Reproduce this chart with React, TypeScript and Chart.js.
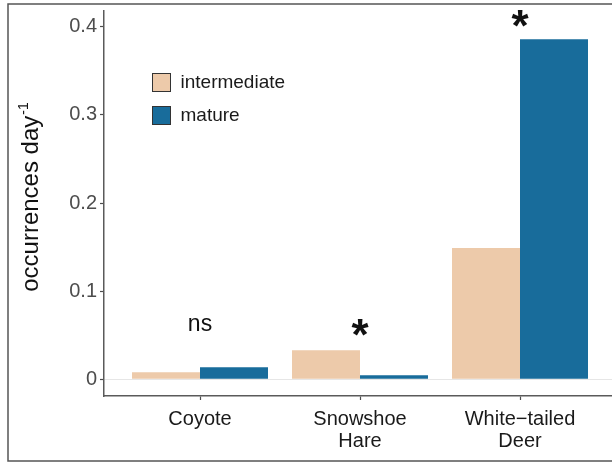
import { useEffect, useRef } from "react";
import { Chart, registerables } from "chart.js";

Chart.register(...registerables);

// Species groups (multi-line tick labels)
const species: string[][] = [["Coyote"], ["Snowshoe", "Hare"], ["White−tailed", "Deer"]];
// Mean detections per camera-day by forest stage
const intermediate = [0.008, 0.033, 0.149];
const mature = [0.0135, 0.0045, 0.386];
const seriesNames = ["intermediate", "mature"];
const seriesColors = ["#EDCAAA", "#186C9B"];
// Y axis ticks
const yTicks = [0, 0.1, 0.2, 0.3, 0.4];
const yTickLabels = ["0", "0.1", "0.2", "0.3", "0.4"];
// Significance marks and the height (in data units) at which they sit
const sigLabels = ["ns", "*", "*"];
const sigHeights = [0.062, 0.059, 0.409];

const FONT = "'Liberation Sans', Arial, Helvetica, sans-serif";

const decorations = {
  id: "decorations",
  afterDraw(chart: any) {
    const { ctx } = chart;
    const x = chart.scales.x;
    const y = chart.scales.y;
    ctx.save();

    // outer frame
    ctx.strokeStyle = "#555555";
    ctx.lineWidth = 1.5;
    ctx.strokeRect(8, 4, 720, 457);

    // y axis title with superscript
    ctx.fillStyle = "#111111";
    ctx.save();
    ctx.translate(37.5, 197);
    ctx.rotate(-Math.PI / 2);
    ctx.textBaseline = "alphabetic";
    ctx.textAlign = "left";
    const main = "occurrences day";
    const sup = "-1";
    ctx.font = `24px ${FONT}`;
    const w1 = ctx.measureText(main).width;
    ctx.font = `14px ${FONT}`;
    const w2 = ctx.measureText(sup).width;
    const start = -(w1 + w2 + 1) / 2;
    ctx.font = `24px ${FONT}`;
    ctx.fillText(main, start, 0);
    ctx.font = `14px ${FONT}`;
    ctx.fillText(sup, start + w1 + 1, -10);
    ctx.restore();

    // significance marks
    ctx.fillStyle = "#111111";
    ctx.textAlign = "center";
    ctx.textBaseline = "alphabetic";
    sigLabels.forEach((lab, i) => {
      ctx.font = lab === "*" ? `bold 44px ${FONT}` : `23px ${FONT}`;
      const m = ctx.measureText(lab);
      const px = x.getPixelForValue(i);
      const py = y.getPixelForValue(sigHeights[i]);
      const base = py + (m.actualBoundingBoxAscent - m.actualBoundingBoxDescent) / 2;
      ctx.fillText(lab, px, base);
    });

    // legend
    const ds = chart.data.datasets;
    ds.forEach((d: any, i: number) => {
      const bx = 152.5;
      const by = 73.5 + i * 33;
      ctx.fillStyle = d.backgroundColor;
      ctx.fillRect(bx, by, 18, 18);
      ctx.strokeStyle = "#333333";
      ctx.lineWidth = 1;
      ctx.strokeRect(bx, by, 18, 18);
      ctx.fillStyle = "#1a1a1a";
      ctx.font = `19px ${FONT}`;
      ctx.textAlign = "left";
      ctx.textBaseline = "middle";
      ctx.fillText(d.label, 180.5, by + 9.5);
    });

    ctx.restore();
  },
};

export default function App() {
  const ref = useRef<HTMLCanvasElement | null>(null);

  useEffect(() => {
    if (!ref.current) return;
    const chart = new Chart(ref.current, {
      type: "bar",
      data: {
        datasets: [intermediate, mature].map((vals, s) => ({
          label: seriesNames[s],
          data: vals.map((v, i) => ({ x: i, y: v })),
          backgroundColor: seriesColors[s],
          borderWidth: 0,
          categoryPercentage: 0.85,
          barPercentage: 1,
        })),
      },
      options: {
        animation: false,
        responsive: false,
        devicePixelRatio: 1,
        layout: { padding: { top: 11, left: 0, right: 0, bottom: 0 } },
        plugins: { legend: { display: false }, tooltip: { enabled: false } },
        scales: {
          x: {
            type: "linear",
            offset: false,
            min: -0.6,
            max: 2.575,
            afterBuildTicks: (s: any) => {
              s.ticks = species.map((_, i) => ({ value: i }));
            },
            afterFit: (s: any) => {
              s.height = 68;
              s.paddingLeft = 0;
              s.paddingRight = 0;
            },
            grid: {
              offset: false,
              drawOnChartArea: false,
              drawTicks: true,
              tickLength: 4,
              tickColor: "#4d4d4d",
              tickWidth: 1.2,
            },
            border: { display: true, color: "#5a5a5a", width: 1.5 },
            ticks: {
              callback: (_v: any, i: number) => species[i],
              color: "#1a1a1a",
              font: { family: FONT, size: 20, lineHeight: 1.1 },
              padding: 8,
              maxRotation: 0,
              autoSkip: false,
            },
          },
          y: {
            min: -0.019,
            max: 0.418,
            afterBuildTicks: (s: any) => {
              s.ticks = yTicks.map((v) => ({ value: v }));
            },
            afterFit: (s: any) => {
              s.width = 104;
              s.paddingTop = 0;
              s.paddingBottom = 0;
            },
            grid: {
              drawOnChartArea: true,
              color: (c: any) => (c.tick && c.tick.value === 0 ? "#e6e6e6" : "rgba(0,0,0,0)"),
              lineWidth: 1,
              drawTicks: true,
              tickLength: 4,
              tickColor: "#4d4d4d",
              tickWidth: 1.2,
            },
            border: { display: true, color: "#5a5a5a", width: 1.5 },
            ticks: {
              callback: (_v: any, i: number) => yTickLabels[i],
              color: "#4d4d4d",
              font: { family: FONT, size: 20 },
              padding: 3,
              autoSkip: false,
            },
          },
        },
      },
      plugins: [decorations],
    });
    return () => chart.destroy();
  }, []);

  return (
    <div style={{ position: "fixed", left: 0, top: 0, width: 612, height: 464, background: "#ffffff" }}>
      <canvas ref={ref} width={612} height={464} style={{ display: "block" }} />
    </div>
  );
}
